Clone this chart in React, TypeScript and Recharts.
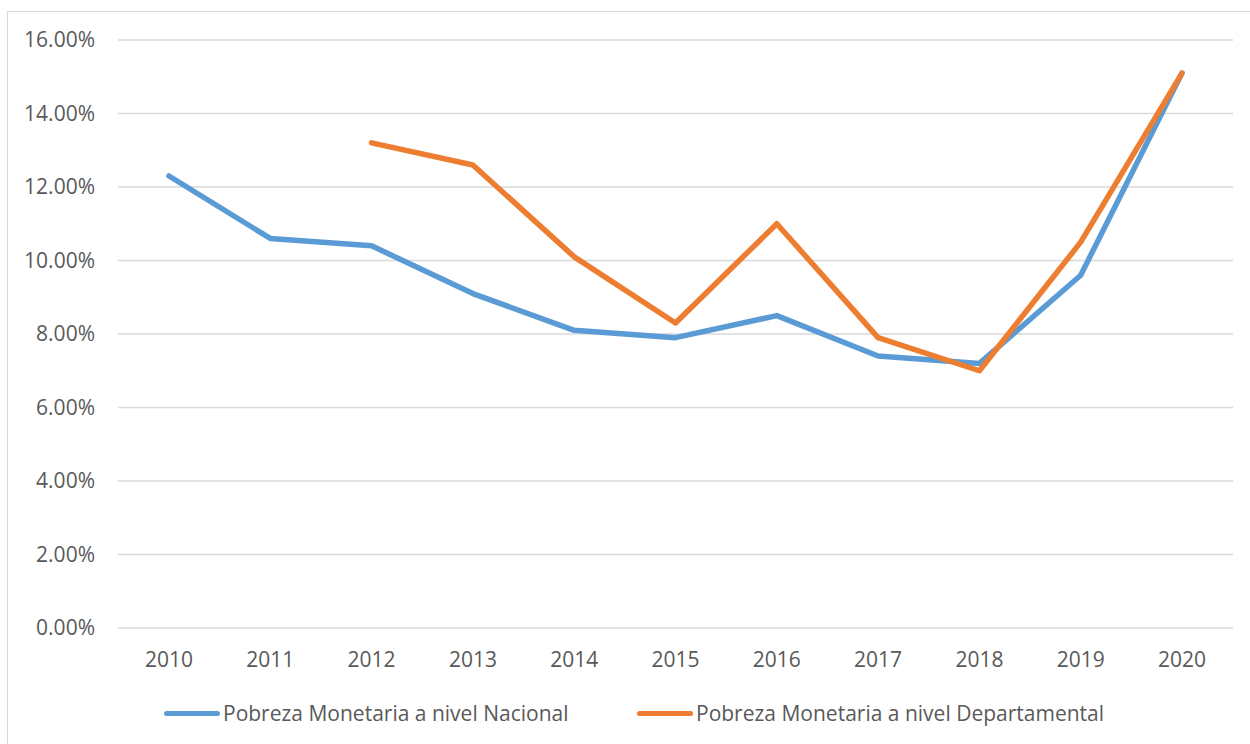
import React from "react";
import { LineChart, Line, XAxis, YAxis, CartesianGrid, Legend } from "recharts";

const years = ["2010", "2011", "2012", "2013", "2014", "2015", "2016", "2017", "2018", "2019", "2020"];
const nacional = [12.3, 10.6, 10.4, 9.1, 8.1, 7.9, 8.5, 7.4, 7.2, 9.6, 15.1];
const departamental = [null, null, 13.2, 12.6, 10.1, 8.3, 11.0, 7.9, 7.0, 10.5, 15.1];
const yTicks = [0, 2, 4, 6, 8, 10, 12, 14, 16];
const seriesNames = ["Pobreza Monetaria a nivel Nacional", "Pobreza Monetaria a nivel Departamental"];
const seriesColors = ["#5B9BD5", "#ED7D31"];

const data = years.map((y, i) => ({ year: y, nac: nacional[i], dep: departamental[i] }));

const FONT = "'Open Sans', sans-serif";
const TEXT = "#595959";

const LegendContent = () => (
  <div style={{ display: "flex", alignItems: "center", paddingLeft: 164, height: 30, fontFamily: FONT, fontSize: 21, color: TEXT }}>
    {seriesNames.map((n, i) => (
      <div key={n} style={{ display: "flex", alignItems: "center", width: i === 0 ? 473 : undefined, whiteSpace: "nowrap" }}>
        <div style={{ width: 56, height: 5, borderRadius: 3, background: seriesColors[i], marginRight: 3 }} />
        <span>{n}</span>
      </div>
    ))}
  </div>
);

export default function App() {
  return (
    <div style={{ position: "absolute", left: 0, top: 0, width: 1250, height: 744, background: "#fff", overflow: "hidden" }}>
      <div style={{ position: "absolute", left: 7, top: 11, width: 1260, height: 760, border: "1px solid #d9d9d9", boxSizing: "border-box" }} />
      <LineChart width={1250} height={744} data={data} margin={{ top: 40, right: 17, left: 8, bottom: 16 }}>
        <CartesianGrid vertical={false} stroke="#d9d9d9" strokeWidth={1.5} />
        <XAxis
          dataKey="year"
          axisLine={false}
          tickLine={false}
          height={70}
          tickMargin={18}
          padding={{ left: 51, right: 51 }}
          interval={0}
          tick={{ fill: TEXT, fontSize: 21, fontFamily: FONT }}
        />
        <YAxis
          domain={[0, 16]}
          ticks={yTicks}
          width={110}
          axisLine={false}
          tickLine={false}
          tickMargin={17}
          tickFormatter={(v: number) => `${v.toFixed(2)}%`}
          tick={{ fill: TEXT, fontSize: 21, fontFamily: FONT }}
        />
        <Legend verticalAlign="bottom" wrapperStyle={{ left: 0, width: 1250 }} content={<LegendContent />} />
        <Line type="linear" dataKey="nac" name={seriesNames[0]} stroke={seriesColors[0]} strokeWidth={5.5} strokeLinecap="round" strokeLinejoin="round" dot={false} activeDot={false} isAnimationActive={false} />
        <Line type="linear" dataKey="dep" name={seriesNames[1]} stroke={seriesColors[1]} strokeWidth={5.5} strokeLinecap="round" strokeLinejoin="round" dot={false} activeDot={false} isAnimationActive={false} />
      </LineChart>
    </div>
  );
}
